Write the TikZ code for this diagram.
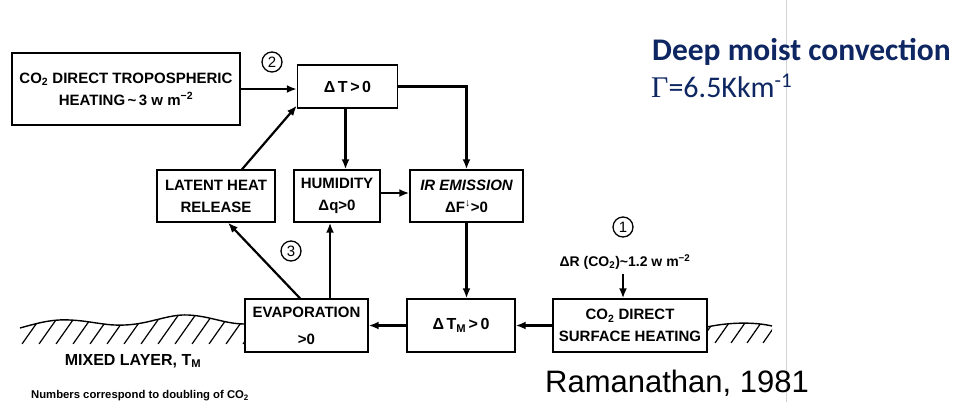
\documentclass[tikz,border=0pt]{standalone}
\usepackage{fontspec}
\setmainfont{Liberation Sans}
\newfontfamily\carl{Carlito}
\newfontfamily\tms{Liberation Serif}
\usetikzlibrary{arrows.meta,calc}
\definecolor{navy}{RGB}{14,38,98}
\newcommand{\gapk}{\kern2.5pt}
\begin{document}
\begin{tikzpicture}[x=1pt,y=-1pt,
  box/.style={draw,line width=1.4pt,align=center,inner sep=0pt,font=\bfseries\fontsize{15}{22}\selectfont},
  arr/.style={line width=2.2pt,-{Latex[length=10pt,width=8pt]}},
  num/.style={draw,circle,line width=1.3pt,minimum size=20pt,inner sep=0pt,font=\fontsize{15}{15}\selectfont},
  ground/.style={line width=1.4pt},
  hatch/.style={line width=1.2pt},
  lbl/.style={inner sep=0pt}]
\useasboundingbox (0,0) rectangle (957,407);
\fill[white] (0,0) rectangle (957,407);

% boxes
\node[box,minimum width=228pt,minimum height=72pt] (trop) at (126,89)
  {CO\textsubscript{2} DIRECT TROPOSPHERIC\\HEATING\,\textasciitilde\,3 w m\textsuperscript{−2}};
\node[box,minimum width=100pt,minimum height=43pt] (dT) at (347.5,86.5) {\fontsize{16}{16}\selectfont Δ\gapk T\gapk >\gapk 0};
\node[box,minimum width=118pt,minimum height=52pt] (latent) at (216,196) {LATENT HEAT\\RELEASE};
\node[box,minimum width=86pt,minimum height=52pt] (hum) at (337,196) {HUMIDITY\\Δq>0};
\node[box,minimum width=113pt,minimum height=52pt] (ir) at (466.5,196) {\itshape IR EMISSION\\ΔF\textsuperscript{↓}>0};
\node[box,minimum width=123pt,minimum height=53pt] (evap) at (306.5,325.5) {EVAPORATION\\[5pt]>0};
\node[box,minimum width=108pt,minimum height=53pt] (dTM) at (461,325.5) {\fontsize{16}{16}\selectfont Δ\gapk T\textsubscript{M}\gapk >\gapk 0};
\node[box,minimum width=154pt,minimum height=53pt] (surf) at (630,325.5) {CO\textsubscript{2} DIRECT\\SURFACE HEATING};

% numbers
\node[num] (n2) at (272,62) {2};
\node[num] (n3) at (291,251) {3};
\node[num] (n1) at (623,227) {1};

% forcing label
\node[lbl,font=\bfseries\fontsize{14}{14}\selectfont] (dR) at (625,262) {ΔR (CO\textsubscript{2})\textasciitilde1.2 w m\textsuperscript{−2}};

% arrows
\draw[arr] (trop.east) -- (trop.east -| dT.west);
\draw[arr] ([xshift=26pt]latent.north) -- ([yshift=3pt]dT.south west);
\draw[arr] ([xshift=-2pt]dT.south) -- ([xshift=-2pt]dT.south |- hum.north);
\draw[arr] (dT.east) -| (ir.north);
\draw[arr] ([yshift=3pt]hum.east) -- ([yshift=3pt]hum.east -| ir.west);
\draw[arr] (ir.south) -- (ir.south |- dTM.north);
\draw[arr] ([xshift=-7pt]hum.south |- evap.north) -- ([xshift=-7pt]hum.south);
\draw[arr] ([xshift=-6.5pt]evap.north) -- ([xshift=12pt]latent.south);
\draw[arr] (dTM.west) -- (dTM.west -| evap.east);
\draw[arr] (surf.west) -- (surf.west -| dTM.east);
\draw[arr] ([xshift=-2pt]dR.south) ++(0,4) coordinate (dRs) -- (dRs |- surf.north);

% ground left
\begin{scope}
  \clip (20,328) .. controls (38,323) and (52,319) .. (70,320)
        .. controls (92,321) and (105,326) .. (125,325)
        .. controls (150,324) and (168,314) .. (188,315)
        .. controls (210,316) and (225,324) .. (245,324)
        -- (245,344) -- (18,344) -- cycle;
  \foreach \x in {36,53,...,300} {\draw[hatch] (\x,300) -- ++(-31,44);}
\end{scope}
\draw[ground] (20,328) .. controls (38,323) and (52,319) .. (70,320)
        .. controls (92,321) and (105,326) .. (125,325)
        .. controls (150,324) and (168,314) .. (188,315)
        .. controls (210,316) and (225,324) .. (245,324);

% ground right
\begin{scope}
  \clip (707,327) .. controls (730,322) and (755,322) .. (772,326)
        -- (772,343) -- (707,343) -- cycle;
  \foreach \x in {722,738,...,800} {\draw[hatch] (\x,310) -- ++(-23,33);}
\end{scope}
\draw[ground] (707,327) .. controls (730,322) and (755,322) .. (772,326);

% labels
\node[lbl,font=\bfseries\fontsize{16}{16}\selectfont] (mixed) at (133,361) {MIXED LAYER, T\textsubscript{M}};
\node[lbl,font=\bfseries\fontsize{11.3}{13}\selectfont] (numbers) at (140,396) {Numbers correspond to doubling of CO\textsubscript{2}};

% slide annotations
\draw[gray!35,line width=0.8pt] (786,0) -- (786,402);
\node[lbl,anchor=base west,text=navy,font=\carl\bfseries\fontsize{31.5}{33}\selectfont] (deep) at (652,60) {Deep moist convection};
\node[lbl,anchor=base west,text=navy,font=\carl\fontsize{30}{32}\selectfont] (gamma) at (651,97) {{\tms Γ}=6.5Kkm\textsuperscript{-1}};
\node[lbl,anchor=west,font=\fontsize{31}{33}\selectfont] (ram) at (545,383) {Ramanathan, 1981};
\end{tikzpicture}
\end{document}
